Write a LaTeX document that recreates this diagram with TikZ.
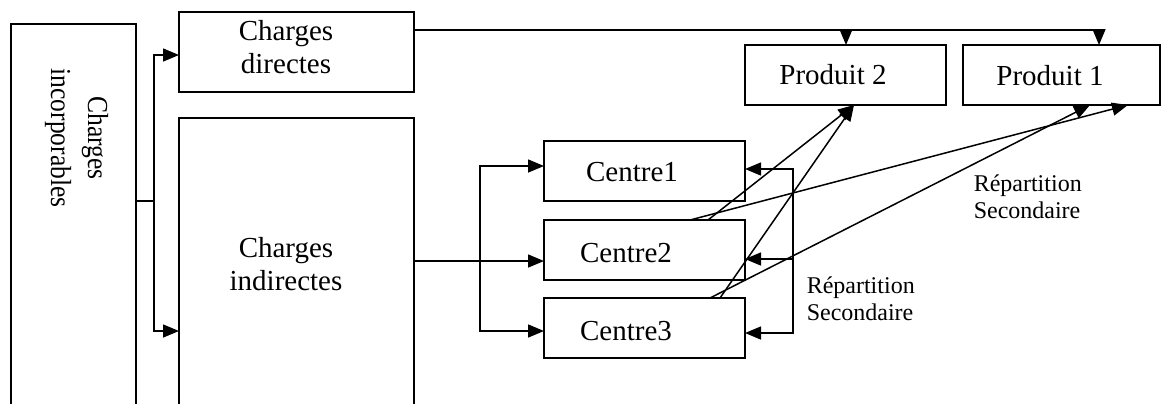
\documentclass[tikz,border=0pt]{standalone}
\usepackage{fontspec}
\setmainfont{Liberation Serif}
\usetikzlibrary{arrows.meta}
\begin{document}
\begin{tikzpicture}[x=0.5pt,y=-0.5pt,
  line width=0.75pt,
  box/.style={draw, line width=0.8pt, inner sep=0pt, outer sep=0pt, anchor=north west},
  lbl/.style={inner sep=0pt, font=\fontsize{14.5}{16.5}\selectfont, align=center},
  rep/.style={inner sep=0pt, font=\fontsize{12}{13.3}\selectfont, align=left, anchor=west},
  arr/.style={-{Triangle[length=8pt,width=6.5pt]}},
  arrb/.style={{Triangle[length=8pt,width=6.5pt]}-{Triangle[length=8pt,width=6.5pt]}}]
\useasboundingbox (0,0) rectangle (1161,403);
\clip (0,0) rectangle (1161,403);
% boxes
\node[box, minimum width=62.5pt, minimum height=200pt] (inc) at (11,24) {};
\node[box, minimum width=117.5pt, minimum height=40pt] (cd) at (179,12) {};
\node[box, minimum width=117.5pt, minimum height=160pt] (ci) at (179,118) {};
\node[box, minimum width=100.5pt, minimum height=30pt] (p2) at (745,45) {};
\node[box, minimum width=98.5pt, minimum height=30pt] (p1) at (963,45) {};
\node[box, minimum width=100.5pt, minimum height=30pt] (c1) at (544,141) {};
\node[box, minimum width=100.5pt, minimum height=30pt] (c2) at (544,220) {};
\node[box, minimum width=100.5pt, minimum height=30pt] (c3) at (544,298) {};
% texts
\node[inner sep=0pt, rotate=-90, font=\fontsize{14.5}{18.5}\selectfont] (tinc) at (77,138)
  {\scalebox{0.88}[1]{\begin{tabular}{@{}c@{}}Charges\\incorporables\end{tabular}}};
\node[lbl] (tcd) at (286,47) {Charges\\directes};
\node[lbl] (tci) at (286,264) {Charges\\indirectes};
\node[lbl] (tp2) at (833,75) {Produit 2};
\node[lbl] (tp1) at (1050,76) {Produit 1};
\node[lbl] (tc1) at (632,172) {Centre1};
\node[lbl] (tc2) at (626,253) {Centre2};
\node[lbl] (tc3) at (626,331) {Centre3};
\node[rep] (rep1) at (806,299) {Répartition\\Secondaire};
\node[rep] (rep2) at (973,197) {Répartition\\Secondaire};
% left fork
\coordinate (jA) at (154,201);
\coordinate (jB) at (154,55);
\coordinate (jC) at (154,331);
\draw (inc.east |- jA) -- (jA);
\draw[arr] (jA) -- (jB) -- (cd.west |- jB);
\draw[arr] (jA) -- (jC) -- (ci.west |- jC);
% top line to products
\coordinate (t1) at (1099,30);
\coordinate (t2) at (846,30);
\draw[arr] (cd.east |- t1) -- (t1) -- (p1.north -| t1);
\draw[arr] (t2) -- (p2.north -| t2);
% charges indirectes to centres
\coordinate (l2) at (480,261);
\coordinate (l1) at (480,166);
\coordinate (l3) at (480,331);
\draw[arr] (ci.east |- l2) -- (c2.west |- l2);
\draw[arrb] (c1.west |- l1) -- (l1) -- (l3) -- (c3.west |- l3);
% right loop (secondary distribution between centres)
\coordinate (r1) at (793,169);
\coordinate (r2) at (793,259);
\coordinate (r3) at (793,333);
\draw[arrb] (c1.east |- r1) -- (r1) -- (r3) -- (c3.east |- r3);
\draw[arr] (r2) -- (c2.east |- r2);
% diagonals to products
\draw[arr] (c2.north -| 690,0) -- (p1.south -| 1128,0);
\draw[arr] (c2.north -| 708,0) -- (p2.south -| 854,0);
\draw[arr] (c3.north -| 720,0) -- (p2.south -| 854,0);
\draw[arr] (c3.north -| 710,0) -- (p1.south -| 1090,0);
\end{tikzpicture}
\end{document}
